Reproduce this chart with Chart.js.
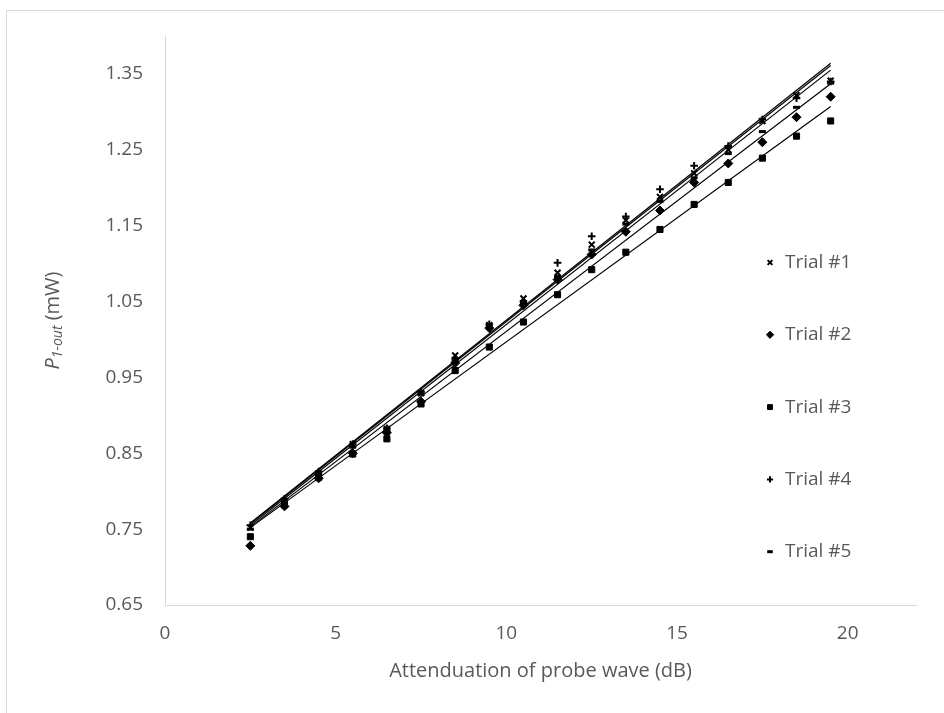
<!DOCTYPE html>
<html>
<head>
<meta charset="utf-8">
<title>P1-out vs attenuation</title>
<script src="https://cdn.jsdelivr.net/npm/chart.js@4.4.0/dist/chart.umd.min.js"></script>
<style>
  body { margin: 0; background: #fff; }
  canvas { display: block; }
</style>
</head>
<body>
<canvas id="scatterChart" width="944" height="713"></canvas>
<script>
// probe wave attenuation (dB)
const attenuation = [2.5, 3.5, 4.5, 5.5, 6.5, 7.5, 8.5, 9.5, 10.5, 11.5, 12.5, 13.5, 14.5, 15.5, 16.5, 17.5, 18.5, 19.5];

// P1-out (mW) per trial
const trial1 = [0.752, 0.787, 0.823, 0.862, 0.882, 0.929, 0.979, 1.019, 1.054, 1.088, 1.125, 1.157, 1.188, 1.219, 1.250, 1.288, 1.322, 1.341];
const trial2 = [0.728, 0.780, 0.817, 0.850, 0.877, 0.918, 0.969, 1.015, 1.045, 1.079, 1.112, 1.142, 1.170, 1.207, 1.232, 1.260, 1.293, 1.320];
const trial3 = [0.740, 0.782, 0.818, 0.849, 0.869, 0.915, 0.959, 0.990, 1.023, 1.059, 1.092, 1.115, 1.145, 1.178, 1.207, 1.239, 1.268, 1.288];
const trial4 = [0.755, 0.790, 0.826, 0.862, 0.883, 0.931, 0.975, 1.020, 1.050, 1.101, 1.136, 1.162, 1.198, 1.229, 1.255, 1.290, 1.318, 1.340];
const trial5 = [0.750, 0.786, 0.822, 0.858, 0.880, 0.928, 0.972, 1.017, 1.048, 1.083, 1.118, 1.152, 1.182, 1.213, 1.245, 1.274, 1.306, 1.338];

const trialNames = ["Trial #1", "Trial #2", "Trial #3", "Trial #4", "Trial #5"];
const markerStyles = ["crossRot", "rectRot", "rect", "cross", "line"];

// linear trendline ends
const trendX = [2.5, 19.5];
const trendStart = [0.757, 0.753, 0.752, 0.758, 0.755];
const trendEnd = [1.361, 1.337, 1.307, 1.364, 1.355];

const xTicks = [0, 5, 10, 15, 20];
const yTicks = [0.65, 0.75, 0.85, 0.95, 1.05, 1.15, 1.25, 1.35];

const FONT = "'Open Sans', sans-serif";
const GREY = "#595959";
const AXIS = "#d9d9d9";

const trials = [trial1, trial2, trial3, trial4, trial5];
const markerRadius = [4.2, 4.5, 4.3, 3.8, 3.5];
const markerBorder = [2, 1, 1, 2, 3];

const datasets = [];
trials.forEach(function (vals, i) {
  datasets.push({
    label: trialNames[i],
    data: attenuation.map(function (x, k) { return { x: x, y: vals[k] }; }),
    showLine: false,
    pointStyle: markerStyles[i],
    pointRadius: markerRadius[i],
    pointBorderWidth: markerBorder[i],
    pointBackgroundColor: "#000",
    pointBorderColor: "#000"
  });
});
trials.forEach(function (vals, i) {
  datasets.push({
    label: trialNames[i] + " trend",
    isTrend: true,
    data: [{ x: trendX[0], y: trendStart[i] }, { x: trendX[1], y: trendEnd[i] }],
    showLine: true,
    borderColor: "#000",
    borderWidth: 1.2,
    pointRadius: 0
  });
});

// border of the chart box, as in the original
const framePlugin = {
  id: "frame",
  beforeDraw: function (chart) {
    const ctx = chart.ctx;
    ctx.save();
    ctx.fillStyle = "#fff";
    ctx.fillRect(0, 0, chart.width, chart.height);
    ctx.strokeStyle = AXIS;
    ctx.lineWidth = 1;
    ctx.strokeRect(6.5, 10.5, chart.width + 20, chart.height + 20);
    ctx.restore();
  }
};

// y title with subscript: P_1-out (mW)
const yTitlePlugin = {
  id: "yTitle",
  afterDraw: function (chart) {
    const ctx = chart.ctx;
    const area = chart.chartArea;
    const main = "italic 20px " + FONT;
    const sub = "italic 14px " + FONT;
    const rest = "20px " + FONT;
    ctx.save();
    ctx.translate(53, (area.top + area.bottom) / 2);
    ctx.rotate(-Math.PI / 2);
    ctx.fillStyle = GREY;
    ctx.textBaseline = "middle";
    ctx.font = main; const w1 = ctx.measureText("P").width;
    ctx.font = sub; const w2 = ctx.measureText("1-out").width;
    ctx.font = rest; const w3 = ctx.measureText(" (mW)").width;
    let x = -(w1 + w2 + w3) / 2;
    ctx.font = main; ctx.fillText("P", x, 0); x += w1;
    ctx.font = sub; ctx.fillText("1-out", x, 5); x += w2;
    ctx.font = rest; ctx.fillText(" (mW)", x, 0);
    ctx.restore();
  }
};

// legend inside the plot, on the right
const legendPlugin = {
  id: "sideLegend",
  afterDraw: function (chart) {
    const ctx = chart.ctx;
    ctx.save();
    ctx.font = "19px " + FONT;
    ctx.textBaseline = "middle";
    let row = 0;
    chart.data.datasets.forEach(function (ds) {
      if (ds.isTrend) return;
      const y = 262.5 + row * 72.3;
      ctx.fillStyle = "#000";
      ctx.strokeStyle = "#000";
      ctx.lineWidth = ds.pointBorderWidth;
      Chart.helpers.drawPoint(ctx, {
        pointStyle: ds.pointStyle,
        radius: ds.pointRadius * 0.8,
        borderWidth: ds.pointBorderWidth,
        rotation: 0
      }, 770, y);
      ctx.fillStyle = GREY;
      ctx.fillText(ds.label, 785, y);
      row++;
    });
    ctx.restore();
  }
};

new Chart(document.getElementById("scatterChart"), {
  type: "scatter",
  data: { datasets: datasets },
  options: {
    responsive: false,
    animation: false,
    layout: { padding: { top: 36, right: 28, left: 0, bottom: 0 } },
    plugins: {
      legend: { display: false },
      tooltip: { enabled: false }
    },
    scales: {
      x: {
        type: "linear",
        min: 0,
        max: 22,
        grid: { display: false, drawTicks: false },
        border: { display: true, color: AXIS, width: 1 },
        afterBuildTicks: function (s) { s.ticks = xTicks.map(function (v) { return { value: v }; }); },
        afterFit: function (s) { s.height = 108; },
        ticks: { color: GREY, font: { family: FONT, size: 19 }, padding: 17 },
        title: {
          display: true,
          text: "Attenduation of probe wave (dB)",
          color: GREY,
          font: { family: FONT, size: 20 },
          padding: { top: 0, bottom: 30 }
        }
      },
      y: {
        type: "linear",
        min: 0.65,
        max: 1.40,
        grid: { display: false, drawTicks: false },
        border: { display: true, color: AXIS, width: 1 },
        afterBuildTicks: function (s) { s.ticks = yTicks.map(function (v) { return { value: v }; }); },
        afterFit: function (s) { s.width = 165; },
        ticks: {
          color: GREY,
          font: { family: FONT, size: 19 },
          padding: 22,
          callback: function (v) { return v.toFixed(2); }
        }
      }
    }
  },
  plugins: [framePlugin, yTitlePlugin, legendPlugin]
});
</script>
</body>
</html>
